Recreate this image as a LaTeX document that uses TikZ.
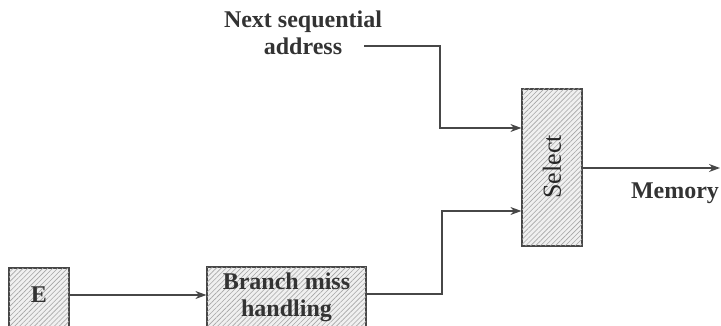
\documentclass[tikz,border=0pt]{standalone}
\usepackage{fontspec}
\setmainfont{Liberation Serif}
\usetikzlibrary{arrows.meta,patterns.meta}
\begin{document}
\begin{tikzpicture}[x=1pt,y=-1pt,
  line width=1.2pt,
  ink/.style={draw=black!72},
  hatchbox/.style={ink, rectangle, inner sep=0pt, fill=black!6,
    postaction={pattern={Lines[angle=45,distance=3.5pt,line width=0.6pt]}, pattern color=black!35}},
  lbl/.style={font=\fontsize{24}{27}\selectfont\bfseries, text=black!80, align=center, inner sep=0pt},
  arr/.style={ink, -{Stealth[length=11pt,width=8pt]}}]
\useasboundingbox (0,0) rectangle (721,326);
\begin{scope}
\clip (0,0) rectangle (721,326);
\node[hatchbox, minimum width=60pt, minimum height=60pt] (E) at (39,298) {};
\node[hatchbox, minimum width=159pt, minimum height=62pt] (B) at (286.5,298) {};
\end{scope}
\node[lbl] (Et) at (39,295) {E};
\node[lbl] (Bt) at (286.5,297.5) {Branch miss\\handling};
\node[hatchbox, minimum width=60pt, minimum height=157pt] (S) at (552,167.5) {};
\node[font=\fontsize{26}{30}\selectfont, text=black!85, rotate=90, inner sep=0pt] (St) at (552,167) {Select};
\node[lbl] (N) at (303,33) {Next sequential\\address};
\node[lbl] (M) at (675,193) {Memory};
\coordinate (n0) at (364,46);
\coordinate (n1) at (440,46);
\coordinate (n2) at (440,128);
\coordinate (b1) at (442,294);
\coordinate (b2) at (442,211);
\coordinate (mem) at (720,168);
\draw[arr] (E.east |- 0,295) -- (B.west |- 0,295);
\draw[arr] (n0) -- (n1) -- (n2) -- (S.west |- n2);
\draw[arr] (B.east |- b1) -- (b1) -- (b2) -- (S.west |- b2);
\draw[arr] (S.east |- mem) -- (mem);
\end{tikzpicture}
\end{document}
